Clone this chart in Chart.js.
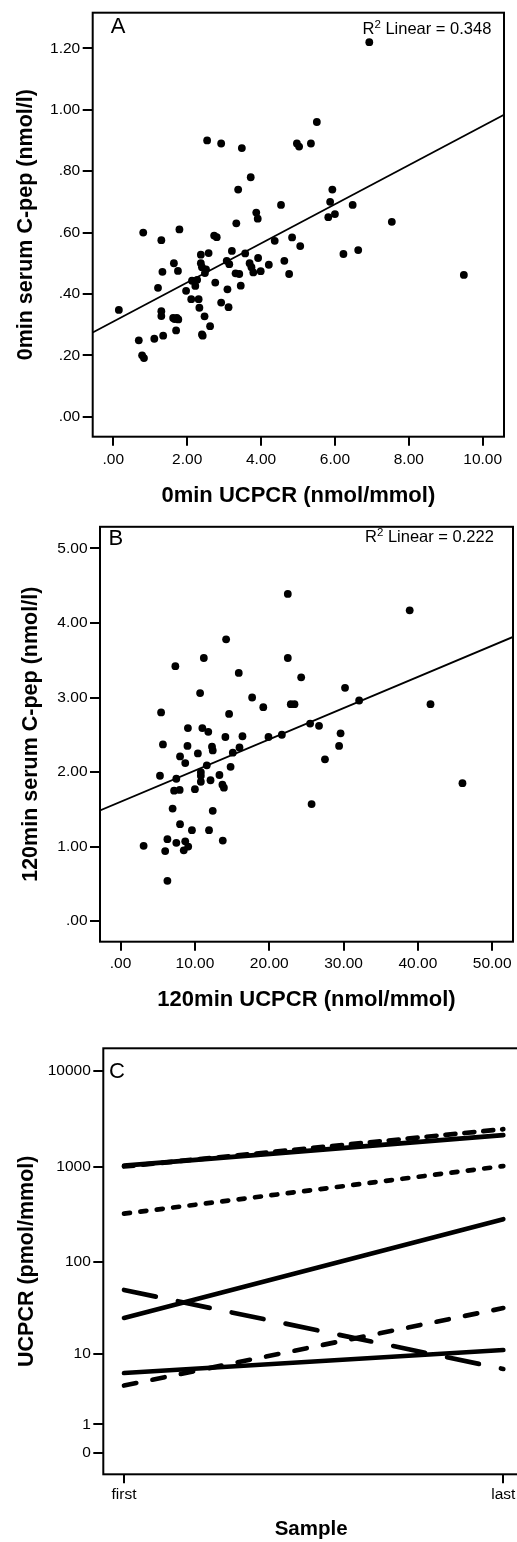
<!DOCTYPE html>
<html>
<head>
<meta charset="utf-8">
<script src="https://cdn.jsdelivr.net/npm/chart.js@4.4.1/dist/chart.umd.min.js"></script>
<style>
  html, body { margin: 0; padding: 0; background: #fff; overflow: hidden; }
  #page { position: relative; width: 517px; height: 1542px; overflow: hidden; }
  canvas { position: absolute; left: 0; }
  .tag { position: absolute; font-family: "Liberation Sans", Arial, sans-serif; color: #000; line-height: 1; white-space: nowrap; }
  .letter { font-size: 22px; }
  .r2 { font-size: 16.5px; }
  .r2 sup { font-size: 11.5px; vertical-align: 6px; line-height: 0; }
</style>
</head>
<body>
<div id="page">
  <canvas id="chartA" width="517" height="515" style="top:0;width:517px;height:515px"></canvas>
  <canvas id="chartB" width="517" height="505" style="top:515px;width:517px;height:505px"></canvas>
  <canvas id="chartC" width="522" height="522" style="top:1020px;width:522px;height:522px"></canvas>

  <span class="tag letter" style="left:110.7px;top:15.4px">A</span>
  <span class="tag r2" style="left:362.5px;top:20.3px">R<sup>2</sup> Linear = 0.348</span>
  <span class="tag letter" style="left:108.5px;top:527.1px">B</span>
  <span class="tag r2" style="left:365px;top:527.6px">R<sup>2</sup> Linear = 0.222</span>
  <span class="tag letter" style="left:109px;top:1060.4px">C</span>
</div>
<script>
// Panel A: 0min UCPCR (nmol/mmol) against 0min serum C-pep (nmol/l)
const A_UCPCR = [6.93, 2.54, 2.92, 3.48, 5.51, 4.97, 5.03, 5.35, 3.72, 3.38,
  5.93, 5.87, 4.54, 6.48, 3.87, 3.91, 5.82, 6.00, 3.33, 7.54,
  0.81, 1.30, 1.79, 2.73, 2.80, 4.37, 4.84, 5.06, 6.23, 6.63,
  2.37, 2.58, 3.21, 3.57, 9.49, 2.37, 2.40, 2.51, 2.48, 3.07,
  3.14, 3.92, 3.69, 3.74, 3.79, 3.99, 4.21, 4.63, 4.76, 3.31,
  3.41, 3.45, 1.64, 1.75, 1.33, 1.21, 2.13, 2.27, 2.22, 2.76,
  1.97, 3.09, 2.11, 2.31, 2.33, 2.92, 3.12, 0.15, 1.30, 1.30,
  1.62, 1.72, 1.76, 1.66, 2.47, 2.62, 1.70, 2.40, 2.42, 0.69,
  1.11, 1.35, 0.78, 0.83];
const A_CPEP = [1.22, 0.90, 0.89, 0.875, 0.96, 0.89, 0.88, 0.89, 0.78, 0.74,
  0.74, 0.70, 0.69, 0.69, 0.665, 0.645, 0.65, 0.66, 0.63, 0.635,
  0.60, 0.575, 0.61, 0.59, 0.585, 0.573, 0.584, 0.556, 0.53, 0.543,
  0.528, 0.533, 0.54, 0.532, 0.462, 0.50, 0.487, 0.48, 0.468, 0.508,
  0.497, 0.517, 0.50, 0.487, 0.47, 0.474, 0.495, 0.508, 0.465, 0.467,
  0.465, 0.427, 0.50, 0.475, 0.472, 0.42, 0.443, 0.446, 0.426, 0.437,
  0.41, 0.415, 0.383, 0.383, 0.355, 0.372, 0.357, 0.348, 0.344, 0.328,
  0.322, 0.322, 0.317, 0.318, 0.327, 0.295, 0.281, 0.268, 0.264, 0.249,
  0.254, 0.264, 0.20, 0.191];
const A_FIT = { intercept: 0.310, slope: 0.0637 };
const A_XTICKS = [0, 2, 4, 6, 8, 10];
const A_YTICKS = [0, 0.2, 0.4, 0.6, 0.8, 1.0, 1.2];

// Panel B: 120min UCPCR (nmol/mmol) against 120min serum C-pep (nmol/l)
const B_UCPCR = [22.5, 38.9, 14.2, 11.2, 7.37, 22.5, 15.9, 24.3, 30.2, 10.7,
  17.7, 32.1, 22.9, 23.4, 41.7, 19.2, 5.45, 14.6, 25.5, 26.7,
  9.06, 11.0, 11.8, 29.6, 16.4, 14.1, 19.9, 21.7, 5.7, 9.0,
  12.3, 12.4, 29.4, 16.0, 10.4, 15.1, 8.0, 8.7, 27.5, 11.6,
  14.8, 5.3, 10.8, 10.8, 10.8, 7.5, 13.3, 12.1, 13.7, 13.9,
  46.0, 7.2, 7.95, 10.0, 25.7, 7.0, 12.4, 8.0, 9.6, 11.9,
  13.75, 6.3, 3.1, 7.5, 8.7, 9.1, 8.5, 6.0, 6.3];
const B_CPEP = [4.39, 4.17, 3.78, 3.53, 3.42, 3.53, 3.33, 3.27, 3.13, 3.06,
  3.00, 2.96, 2.91, 2.91, 2.91, 2.87, 2.80, 2.78, 2.65, 2.62,
  2.59, 2.59, 2.54, 2.52, 2.48, 2.47, 2.47, 2.50, 2.37, 2.35,
  2.34, 2.29, 2.35, 2.33, 2.25, 2.26, 2.21, 2.12, 2.17, 2.09,
  2.07, 1.95, 2.00, 1.95, 1.87, 1.91, 1.96, 1.89, 1.83, 1.79,
  1.85, 1.75, 1.76, 1.77, 1.57, 1.51, 1.48, 1.30, 1.22, 1.22,
  1.08, 1.10, 1.01, 1.05, 1.07, 1.00, 0.95, 0.94, 0.54];
const B_FIT = { intercept: 1.60, slope: 0.0419 };
const B_XTICKS = [0, 10, 20, 30, 40, 50];
const B_YTICKS = [0, 1, 2, 3, 4, 5];

// Panel C: UCPCR (pmol/mmol) of the first and last sample, one line per subject
const C_SAMPLES = ['first', 'last'];
const C_FIRST = [1020, 1000, 320, 25, 50, 4.1, 5.9];
const C_LAST = [2130, 2460, 1010, 280, 6.6, 32, 11];
const C_YTICKS = [0, 1, 10, 100, 1000, 10000];
const C_DASHES = [[], [10, 9], [6, 10.5], [], [32.5, 22.5], [12.5, 16.5], []];

const INK = '#000';
const FONT = '"Liberation Sans", Arial, Helvetica, sans-serif';
const XTITLE_FONT = { family: FONT, size: 22, weight: 'bold' };
const YTITLE_FONT = { family: FONT, size: 21.5, weight: 'bold' };
const TICK_FONT = { family: FONT, size: 15.5 };

Chart.defaults.font.family = FONT;
Chart.defaults.color = INK;

// SPSS style numbers: .00, .20, 1.20
const spss = v => v.toFixed(2).replace(/^0\./, '.');

// y axis of panel C: log10(value + 1), so 0 and 1 still get a place
const log1p = v => Math.log10(v + 1);
const LinearScale = Chart.registry.getScale('linear');
class Log1pScale extends LinearScale {
  determineDataLimits() {
    this.min = log1p(this.options.min);
    this.max = log1p(this.options.max);
  }
  buildTicks() {
    return C_YTICKS.map(v => ({ value: v }));
  }
  getPixelForValue(value) {
    return value === null ? NaN : super.getPixelForValue(log1p(value));
  }
  getValueForPixel(pixel) {
    return Math.pow(10, super.getValueForPixel(pixel)) - 1;
  }
}
Log1pScale.id = 'log1p';
Log1pScale.defaults = {};
Chart.register(Log1pScale);

// closed box round the plot area
const framePlugin = {
  id: 'frame',
  afterDraw(chart) {
    const { ctx, chartArea: a } = chart;
    ctx.save();
    ctx.strokeStyle = INK;
    ctx.lineWidth = 2;
    ctx.strokeRect(a.left, a.top, a.right - a.left, a.bottom - a.top);
    ctx.restore();
  }
};

function scale(o) {
  const s = {
    type: o.type || 'linear',
    position: o.position,
    min: o.min,
    max: o.max,
    border: { display: false },
    grid: { drawOnChartArea: false, drawTicks: true, tickLength: o.tickLength, color: INK, lineWidth: 2 },
    ticks: { color: INK, font: TICK_FONT, padding: o.padding, autoSkip: false, maxRotation: 0, callback: o.label },
    title: { display: true, text: o.title, color: INK, font: o.titleFont, padding: o.titlePad },
    afterFit: o.fit
  };
  if (o.ticks) s.afterBuildTicks = axis => { axis.ticks = o.ticks.map(v => ({ value: v })); };
  return s;
}

function frameOptions(box, scales) {
  return {
    responsive: false,
    animation: false,
    events: [],
    layout: { padding: { left: 0, top: box.top, right: box.w - box.right, bottom: 0 } },
    plugins: { legend: { display: false }, tooltip: { enabled: false } },
    scales
  };
}

function scatterPanel(id, box, xs, ys, fit, ax) {
  const points = xs.map((x, i) => ({ x, y: ys[i] }));
  const fitLine = [ax.xMin, ax.xMax].map(x => ({ x, y: fit.intercept + fit.slope * x }));
  return new Chart(document.getElementById(id), {
    type: 'scatter',
    data: {
      datasets: [
        { type: 'line', data: fitLine, borderColor: INK, borderWidth: 1.8, pointRadius: 0, fill: false },
        { data: points, pointRadius: 3.9, pointBorderWidth: 0, pointBackgroundColor: INK, pointBorderColor: INK }
      ]
    },
    options: frameOptions(box, {
      x: scale({ position: 'bottom', min: ax.xMin, max: ax.xMax, ticks: ax.xTicks, label: spss,
        tickLength: 9, padding: ax.xPad, title: ax.xTitle, titleFont: XTITLE_FONT, titlePad: { bottom: ax.xTitlePad },
        fit: s => { s.height = box.h - box.bottom; } }),
      y: scale({ position: 'left', min: ax.yMin, max: ax.yMax, ticks: ax.yTicks, label: spss,
        tickLength: 10, padding: 2.5, title: ax.yTitle, titleFont: YTITLE_FONT, titlePad: { top: ax.yTitlePad },
        fit: s => { s.width = box.left; } })
    }),
    plugins: [framePlugin]
  });
}

scatterPanel('chartA', { w: 517, h: 515, left: 92.7, right: 504, top: 12.7, bottom: 436.7 },
  A_UCPCR, A_CPEP, A_FIT, {
    xMin: -0.558, xMax: 10.577, xTicks: A_XTICKS, xPad: 5, xTitle: '0min UCPCR (nmol/mmol)', xTitlePad: 6,
    yMin: -0.065, yMax: 1.316, yTicks: A_YTICKS, yTitle: '0min serum C-pep (nmol/l)', yTitlePad: 13.1
  });

scatterPanel('chartB', { w: 517, h: 505, left: 100, right: 515, top: 2.7, bottom: 426.7 },
  B_UCPCR, B_CPEP, B_FIT, {
    xMin: -2.77, xMax: 52.8, xTicks: B_XTICKS, xPad: 4, xTitle: '120min UCPCR (nmol/mmol)', xTitlePad: 6.8,
    yMin: -0.276, yMax: 5.29, yTicks: B_YTICKS, yTitle: '120min serum C-pep (nmol/l)', yTitlePad: 18.6
  });

const boxC = { w: 522, h: 522, left: 103.3, right: 519, top: 28.3, bottom: 454.3 };
new Chart(document.getElementById('chartC'), {
  type: 'line',
  data: {
    datasets: C_FIRST.map((first, i) => ({
      data: [{ x: 0, y: first }, { x: 1, y: C_LAST[i] }],
      borderColor: INK,
      borderWidth: 4.7,
      borderDash: C_DASHES[i],
      borderCapStyle: 'round',
      pointRadius: 0,
      fill: false
    }))
  },
  options: frameOptions(boxC, {
    x: scale({ position: 'bottom', min: -0.0546, max: 1.0414, ticks: [0, 1],
      label: (v, i) => C_SAMPLES[i], tickLength: 9, padding: 2.5, title: 'Sample',
      titleFont: { family: FONT, size: 20.5, weight: 'bold' }, titlePad: { bottom: 0 },
      fit: s => { s.height = boxC.h - boxC.bottom; } }),
    y: scale({ type: 'log1p', position: 'left', min: -0.4, max: 17300,
      label: (v, i) => String(C_YTICKS[i]), tickLength: 10, padding: 2.5, title: 'UCPCR (pmol/mmol)',
      titleFont: YTITLE_FONT, titlePad: { top: 14.1 }, fit: s => { s.width = boxC.left; } })
  }),
  plugins: [framePlugin]
});
</script>
</body>
</html>
